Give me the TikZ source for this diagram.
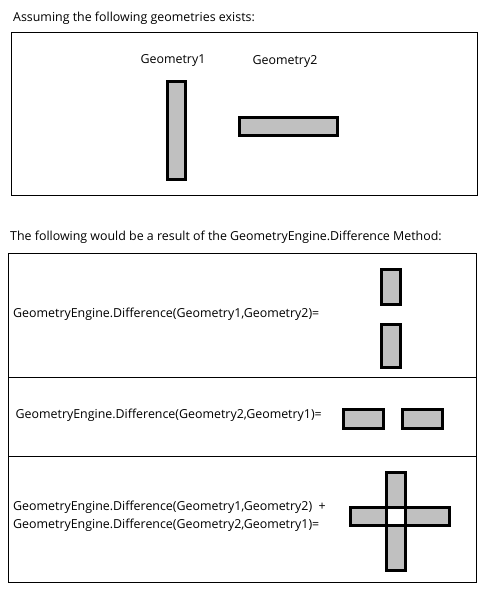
\documentclass[tikz,border=0pt]{standalone}
\usepackage{fontspec}
\setmainfont{Open Sans}
\usepackage{xcolor}
\definecolor{geomfill}{HTML}{C0C0C0}
\definecolor{geomline}{HTML}{000000}
\definecolor{textdark}{HTML}{000000}
\usepackage{tikz}
\usetikzlibrary{positioning}
\newcommand{\geomRect}[4]{% x1, y1, x2, y2  (grey geometry)
  \draw[geomline, fill=geomfill, line width=3pt] (#1,#2) rectangle (#3,#4);
}
\newcommand{\geomHole}[4]{% x1, y1, x2, y2  (empty square)
  \draw[geomline, fill=white, line width=3pt] (#1,#2) rectangle (#3,#4);
}
\tikzset{
  lbl/.style={anchor=west, inner sep=0pt, text=textdark,
              font=\fontsize{12.4}{18}\selectfont, align=left},
  frame/.style={draw=black, line width=1pt}
}

\begin{document}
\begin{tikzpicture}[x=1pt, y=-1pt]
  \useasboundingbox (0,0) rectangle (486,593);

  % Input geometries
  \node[lbl] (intro) at (13,18) {Assuming the following geometries exists:};
  \draw[frame] (11,33) rectangle (477,196);
  \node[lbl, anchor=center] (name1) at (173,61) {Geometry1};
  \node[lbl, anchor=center] (name2) at (285,62) {Geometry2};
  \geomRect{167}{82}{185}{180}
  \geomRect{239}{118}{337}{136}

  % Result table
  \node[lbl] (result) at (10,237.5) {The following would be a result of the GeometryEngine.Difference Method:};
  \draw[frame] (8.5,253.5) rectangle (476,582.5);
  \draw[frame] (8.5,377.5) -- (476,377.5);
  \draw[frame] (8.5,456.5) -- (476,456.5);

  % Row 1: Geometry1 minus Geometry2
  \node[lbl] (diff12) at (13,314) {GeometryEngine.Difference(Geometry1,Geometry2)=};
  \geomRect{381.5}{269}{400}{304.5}
  \geomRect{381.5}{324.5}{400}{367}

  % Row 2: Geometry2 minus Geometry1
  \node[lbl] (diff21) at (15.5,415) {GeometryEngine.Difference(Geometry2,Geometry1)=};
  \geomRect{343.5}{409.5}{383.5}{428}
  \geomRect{402.5}{409.5}{442}{428}

  % Row 3: both differences together
  \node[lbl] (diffsum) at (13,516.5) {GeometryEngine.Difference(Geometry1,Geometry2)~~+\\
                                      GeometryEngine.Difference(Geometry2,Geometry1)=};
  \geomRect{386}{472}{405.5}{570.5}
  \geomRect{350.5}{507}{449}{525}
  \geomHole{386}{507}{405.5}{525}
\end{tikzpicture}
\end{document}
